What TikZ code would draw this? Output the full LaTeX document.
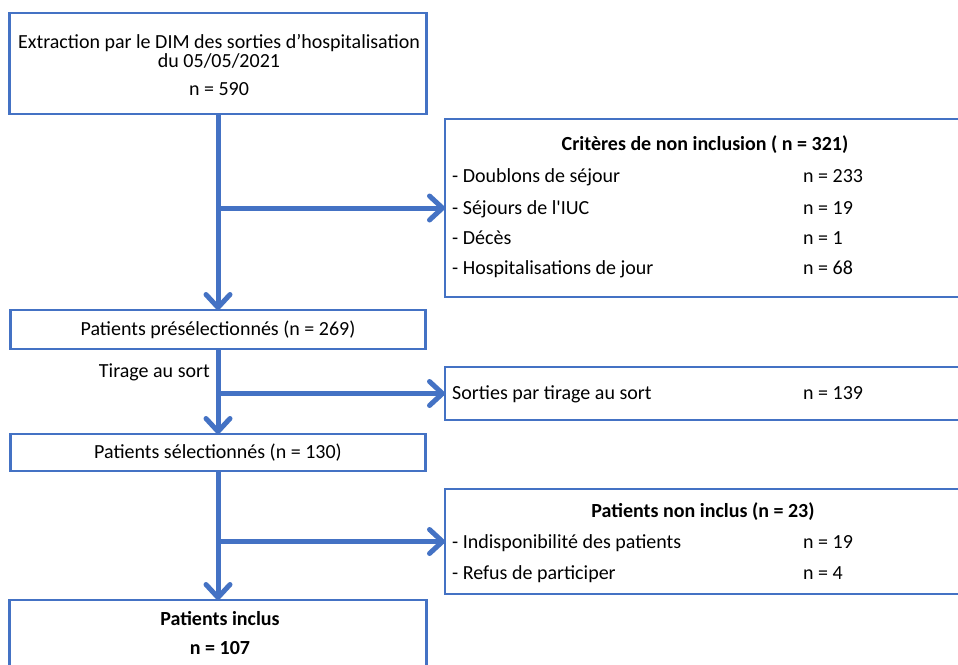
\documentclass[tikz,border=0pt]{standalone}
\usepackage{fontspec}
\setmainfont{Carlito}[Ligatures=TeXOff]
\usetikzlibrary{arrows.meta}
\definecolor{bl}{HTML}{4472C4}
\begin{document}
\begin{tikzpicture}[x=1pt,y=-1pt,
  box/.style={draw=bl, line width=2.6pt, inner sep=0pt, outer sep=0pt, fill=white},
  txt/.style={inner sep=0pt, yshift=-3.5pt, font=\fontsize{20}{24}\selectfont},
  btxt/.style={txt, font=\fontsize{20}{24}\selectfont\bfseries},
  lt/.style={txt, anchor=mid west},
  flow/.style={draw=bl, line width=5pt, -{Straight Barb[length=13pt,width=24pt,line cap=round,line join=round]}}
]
\clip (0,0) rectangle (958,664);
\fill[white] (0,0) rectangle (958,664);

% left column boxes
\node[box, minimum width=417pt, minimum height=101pt] (box1) at (218,63.5) {};
\node[box, minimum width=415pt, minimum height=39pt] (box2) at (218,329.5) {};
\node[box, minimum width=415pt, minimum height=37pt] (box3) at (218,452.5) {};
\node[box, minimum width=417pt, minimum height=100pt] (box4) at (218,650) {};

% right column boxes
\node[box, minimum width=520pt, minimum height=178pt] (crit) at (705,208) {};
\node[box, minimum width=520pt, minimum height=53pt] (sort) at (705,393.5) {};
\node[box, minimum width=520pt, minimum height=105pt] (noninc) at (705,541.5) {};

% texts
\node[txt, anchor=mid] (t1a) at (219,43) {Extraction par le DIM des sorties d’hospitalisation};
\node[txt, anchor=mid] (t1b) at (219,62) {du 05/05/2021};
\node[txt, anchor=mid] (t1c) at (219,90) {n = 590};

\node[btxt, anchor=mid] (ct) at (705,145) {Critères de non inclusion ( n = 321)};
\node[lt] (c1) at (452,177) {- Doublons de séjour};
\node[lt] (c2) at (452,209) {- Séjours de l'IUC};
\node[lt] (c3) at (452,239) {- Décès};
\node[lt] (c4) at (452,269) {- Hospitalisations de jour};
\node[lt] (n1) at (803,177) {n = 233};
\node[lt] (n2) at (803,209) {n = 19};
\node[lt] (n3) at (803,239) {n = 1};
\node[lt] (n4) at (803,269) {n = 68};

\node[txt, anchor=mid] (t2) at (218,330) {Patients présélectionnés (n = 269)};
\node[txt, anchor=mid east] (tir) at (210,372) {Tirage au sort};

\node[lt] (s1) at (452,394) {Sorties par tirage au sort};
\node[lt] (sn) at (803,394) {n = 139};

\node[txt, anchor=mid] (t3) at (218,453) {Patients sélectionnés (n = 130)};

\node[btxt, anchor=mid] (nt) at (703,512) {Patients non inclus (n = 23)};
\node[lt] (p1) at (452,543) {- Indisponibilité des patients};
\node[lt] (p2) at (452,574) {- Refus de participer};
\node[lt] (pn1) at (803,543) {n = 19};
\node[lt] (pn2) at (803,574) {n = 4};

\node[btxt, anchor=mid] (t4a) at (220,620) {Patients inclus};
\node[btxt, anchor=mid] (t4b) at (220,649) {n = 107};

% connectors
\coordinate (j1) at (box1.south |- crit.west);
\coordinate (j2) at (box2.south |- sort.west);
\coordinate (j3) at (box3.south |- noninc.west);
\draw[flow] (box1.south) -- (box2.north);
\draw[flow] (j1) -- (crit.west);
\draw[flow] (box2.south) -- (box3.north);
\draw[flow] (j2) -- (sort.west);
\draw[flow] (box3.south) -- (box4.north);
\draw[flow] (j3) -- (noninc.west);
\end{tikzpicture}
\end{document}
